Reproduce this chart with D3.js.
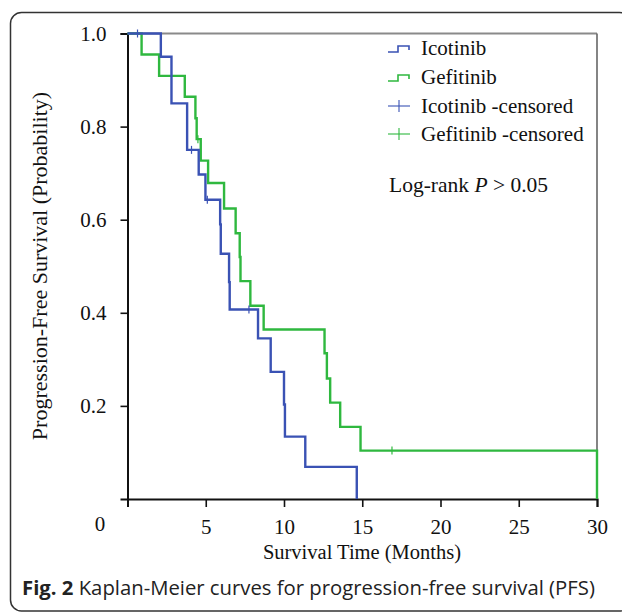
<!DOCTYPE html>
<html>
<head>
<meta charset="utf-8">
<script src="https://cdn.jsdelivr.net/npm/d3@7/dist/d3.min.js"></script>
<style>
  html, body { margin: 0; padding: 0; background: #fff; }
  svg { display: block; }
</style>
</head>
<body>
<svg id="chart" width="622" height="613"></svg>
<script>
// ---- data ----
const icoTimes = [0, 2.13, 2.81, 3.81, 4.55, 4.98, 5.92, 5.96, 6.49, 6.53, 8.34, 9.15, 10.0, 10.06, 11.36, 14.65];
const icoSurv  = [1.0, 0.95, 0.85, 0.75, 0.697, 0.643, 0.59, 0.527, 0.466, 0.407, 0.345, 0.273, 0.203, 0.134, 0.069, 0];
const icoCensor = [0.64, 4.09, 5.1, 7.76];

const gefTimes = [0, 0.9, 2.02, 3.66, 4.34, 4.42, 4.68, 5.15, 6.17, 6.91, 7.17, 7.22, 7.85, 8.7, 12.59, 12.74, 12.95, 13.59, 14.89, 30];
const gefSurv  = [1.0, 0.955, 0.909, 0.864, 0.818, 0.773, 0.727, 0.679, 0.624, 0.571, 0.52, 0.468, 0.415, 0.364, 0.313, 0.259, 0.207, 0.155, 0.104, 0];
const gefCensor = [4.5, 16.9];

const xTicks = [5, 10, 15, 20, 25, 30];
const yTicks = [0.2, 0.4, 0.6, 0.8, 1.0];
const legendLabels = ["Icotinib", "Gefitinib", "Icotinib -censored", "Gefitinib -censored"];

const BLUE = "#3a52b4", GREEN = "#2fb83f";
const serif = "'Liberation Serif', 'Times New Roman', serif";

const svg = d3.select("#chart");

// outer rounded frame
svg.append("rect").attr("x", 10.5).attr("y", 12.5).attr("width", 620).attr("height", 598.5)
  .attr("rx", 11).attr("fill", "none").attr("stroke", "#333").attr("stroke-width", 1.5);

const L = 127.5, R = 597, T = 33.5, B = 499;
const x = d3.scaleLinear().domain([0, 30]).range([L, R]);
const y = d3.scaleLinear().domain([0, 1]).range([B, T]);

// frame top and right (gray)
svg.append("line").attr("x1", L).attr("x2", R).attr("y1", T).attr("y2", T).attr("stroke", "#8a8a8a").attr("stroke-width", 1.8);
svg.append("line").attr("x1", R).attr("x2", R).attr("y1", T).attr("y2", B).attr("stroke", "#666").attr("stroke-width", 1.6);

// axes
const yAxis = svg.append("g").attr("transform", `translate(${L},0)`)
  .call(d3.axisLeft(y).tickValues(yTicks).tickFormat(d3.format(".1f")).tickSize(7).tickPadding(14));
const xAxis = svg.append("g").attr("transform", `translate(0,${B})`)
  .call(d3.axisBottom(x).tickValues(xTicks).tickFormat(d3.format("d")).tickSize(8).tickPadding(12));
[yAxis, xAxis].forEach(g => {
  g.select(".domain").attr("stroke", "#111").attr("stroke-width", 2);
  g.selectAll(".tick line").attr("stroke", "#111").attr("stroke-width", 1.6);
  g.selectAll("text").attr("font-family", serif).attr("font-size", 21).attr("fill", "#111");
});
// the shared origin label
svg.append("text").attr("x", 100).attr("y", 531).attr("text-anchor", "middle")
  .attr("font-family", serif).attr("font-size", 21).attr("fill", "#111").text("0");

// axis titles
svg.append("text").attr("x", 362).attr("y", 559).attr("text-anchor", "middle")
  .attr("font-family", serif).attr("font-size", 20.5).attr("fill", "#111").text("Survival Time (Months)");
svg.append("text").attr("transform", "translate(47,266) rotate(-90)").attr("text-anchor", "middle")
  .attr("font-family", serif).attr("font-size", 22).attr("fill", "#111").text("Progression-Free Survival (Probability)");

// curves
const line = d3.line().x(d => x(d[0])).y(d => y(d[1])).curve(d3.curveStepAfter);
function stepAt(times, surv, t) {
  let v = surv[0];
  for (let i = 0; i < times.length; i++) if (times[i] <= t) v = surv[i];
  return v;
}
function drawCurve(times, surv, censor, color) {
  svg.append("path").datum(times.map((t, i) => [t, surv[i]]))
    .attr("d", line).attr("fill", "none").attr("stroke", color).attr("stroke-width", 2.4);
  censor.forEach(t => {
    const cx = x(t), cy = y(stepAt(times, surv, t));
    svg.append("line").attr("x1", cx).attr("x2", cx).attr("y1", cy - 4).attr("y2", cy + 4)
      .attr("stroke", color).attr("stroke-width", 1.2);
  });
}
drawCurve(gefTimes, gefSurv, gefCensor, GREEN);
drawCurve(icoTimes, icoSurv, icoCensor, BLUE);

// legend
const legY = [48, 77, 106, 134];
const legColors = [BLUE, GREEN, BLUE, GREEN];
legendLabels.forEach((lab, i) => {
  const yy = legY[i];
  if (i < 2) {
    svg.append("path").attr("d", `M388,${yy + 4}H398V${yy - 2}H409V${yy + 2}`)
      .attr("fill", "none").attr("stroke", legColors[i]).attr("stroke-width", 1.6);
  } else {
    svg.append("line").attr("x1", 388).attr("x2", 410).attr("y1", yy).attr("y2", yy).attr("stroke", legColors[i]).attr("stroke-width", 1.1);
    svg.append("line").attr("x1", 399).attr("x2", 399).attr("y1", yy - 6).attr("y2", yy + 6).attr("stroke", legColors[i]).attr("stroke-width", 1.1);
  }
  svg.append("text").attr("x", 421).attr("y", yy + 7).attr("font-family", serif).attr("font-size", 21)
    .attr("fill", "#111").text(lab);
});
const lr = svg.append("text").attr("x", 389).attr("y", 192).attr("font-family", serif).attr("font-size", 21.5).attr("fill", "#111");
lr.append("tspan").text("Log-rank ");
lr.append("tspan").attr("font-style", "italic").text("P");
lr.append("tspan").text(" > 0.05");

// caption
const cap = svg.append("text").attr("x", 22).attr("y", 595).attr("font-family", "'Open Sans', sans-serif")
  .attr("font-size", 20.3).attr("fill", "#222");
cap.append("tspan").attr("font-weight", "bold").text("Fig. 2");
cap.append("tspan").text(" Kaplan-Meier curves for progression-free survival (PFS)");
</script>
</body>
</html>
